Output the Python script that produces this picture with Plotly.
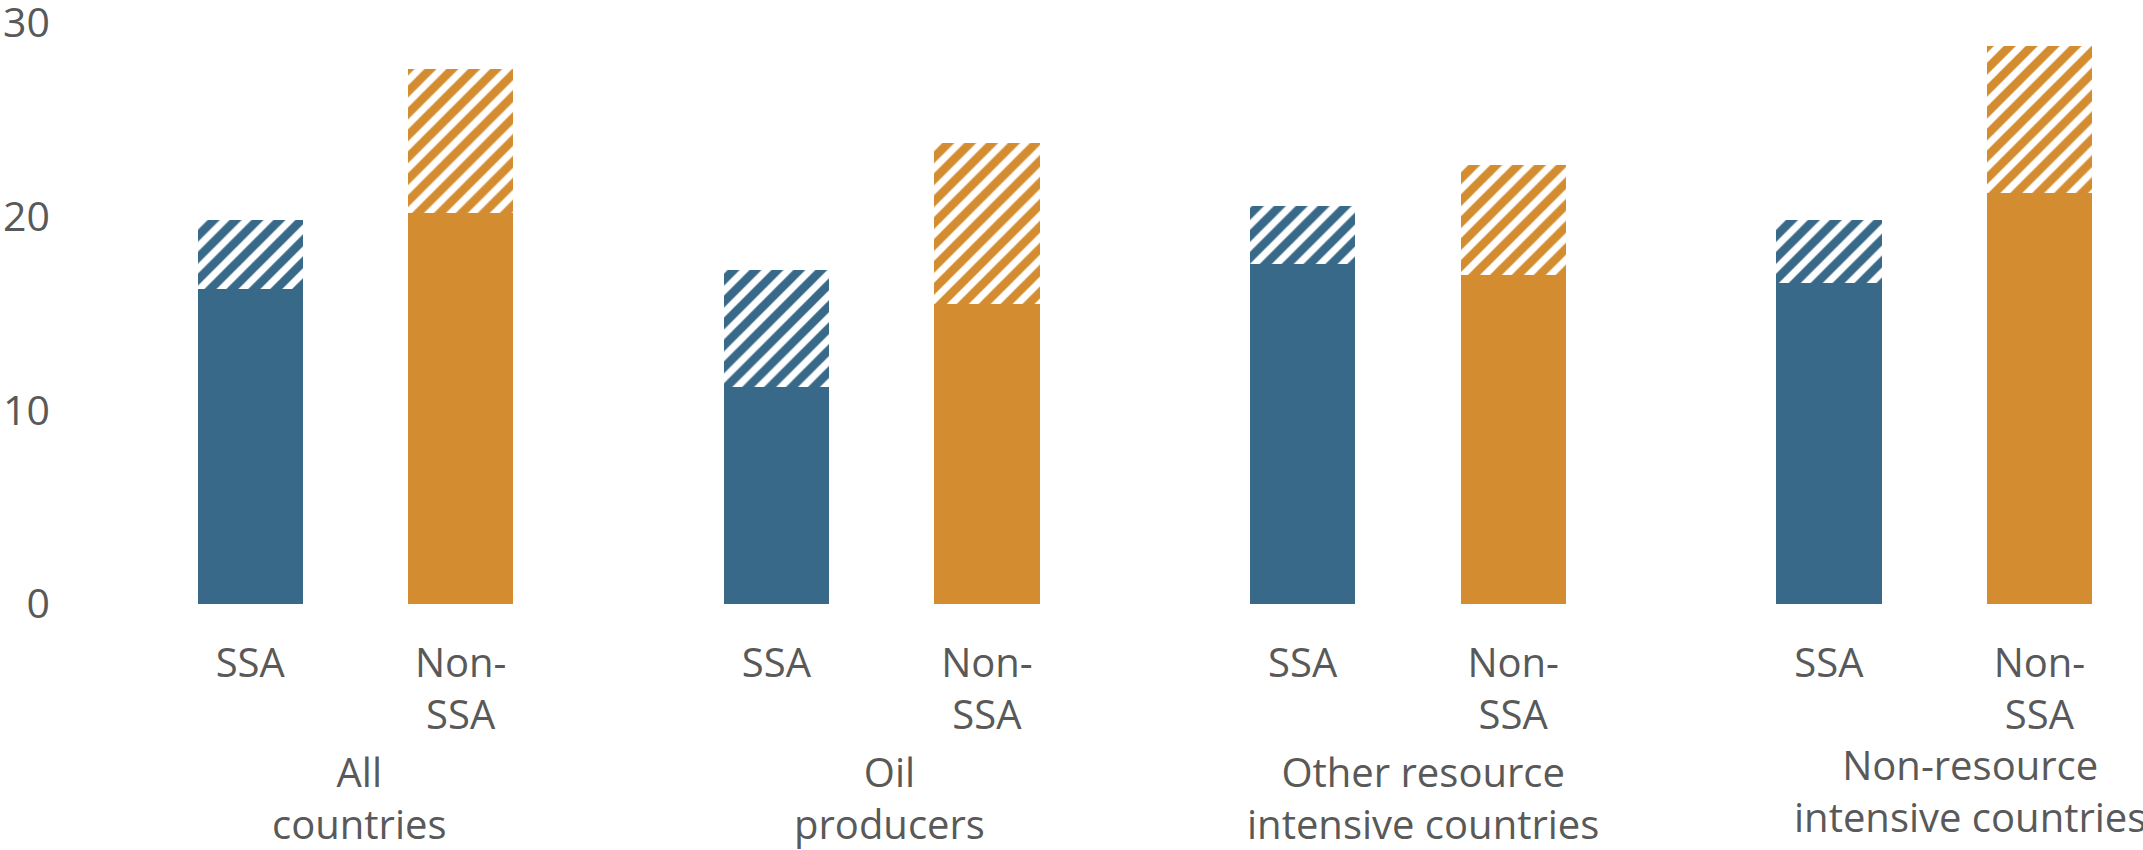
import plotly.graph_objects as go

# Group labels and sub-bar labels
groups = ["All<br>countries", "Oil<br>producers",
          "Other resource<br>intensive countries", "Non-resource<br>intensive countries"]
bar_labels = ["SSA", "Non-<br>SSA"]

# Solid (lower) portion and hatched (upper) increment for each group
ssa_base = [16.25, 11.2, 17.55, 16.55]
ssa_extra = [3.6, 6.05, 3.0, 3.3]
non_base = [20.2, 15.5, 17.0, 21.2]
non_extra = [7.4, 8.3, 5.65, 7.6]

y_ticks = [0, 10, 20, 30]

BLUE = "#386989"
ORANGE = "#D48C31"
TEXT = "#595959"
FONT = "Open Sans"

GROUP_STEP = 2.5
ssa_x = [i * GROUP_STEP for i in range(len(groups))]
non_x = [i * GROUP_STEP + 1 for i in range(len(groups))]
BAR_W = 0.5


def hatch(color):
    return dict(shape="/", size=15.5, solidity=0.55, fgcolor=color,
                fgopacity=1, bgcolor="white")


fig = go.Figure()
fig.add_trace(go.Bar(x=ssa_x, y=ssa_base, width=BAR_W, marker=dict(color=BLUE, line_width=0)))
fig.add_trace(go.Bar(x=ssa_x, y=ssa_extra, width=BAR_W,
                     marker=dict(color=BLUE, line_width=0, pattern=hatch(BLUE))))
fig.add_trace(go.Bar(x=non_x, y=non_base, width=BAR_W, marker=dict(color=ORANGE, line_width=0)))
fig.add_trace(go.Bar(x=non_x, y=non_extra, width=BAR_W,
                     marker=dict(color=ORANGE, line_width=0, pattern=hatch(ORANGE))))

tick_vals = []
tick_text = []
for a, b in zip(ssa_x, non_x):
    tick_vals += [a, b]
    tick_text += bar_labels

# group captions below the sub-bar labels
label_dx = [4, 8, 15, 36]
label_dy = [-138, -138, -138, -131]
for g, a, b, dx, dy in zip(groups, ssa_x, non_x, label_dx, label_dy):
    fig.add_annotation(x=(a + b) / 2, y=0, xref="x", yref="y", text=g,
                       showarrow=False, yanchor="top", yshift=dy, xshift=dx,
                       font=dict(family=FONT, size=40, color=TEXT))

fig.update_layout(
    width=2143, height=850,
    margin=dict(l=60, r=0, t=23, b=246, autoexpand=False),
    paper_bgcolor="white", plot_bgcolor="white",
    barmode="stack", bargap=0, showlegend=False,
    font=dict(family=FONT, color=TEXT),
)
fig.update_xaxes(range=[-0.9036, 8.992], tickvals=tick_vals, ticktext=tick_text,
                 showgrid=False, zeroline=False, showline=False, ticks="", automargin=False,
                 tickfont=dict(family=FONT, size=40, color=TEXT), ticklabelstandoff=32)
fig.update_yaxes(range=[0, 30], tickvals=y_ticks, showgrid=False, zeroline=False,
                 showline=False, ticks="", automargin=False,
                 tickfont=dict(family=FONT, size=41, color=TEXT),
                 ticklabelstandoff=9, ticklabeloverflow="allow")

fig.write_html("out.html")
